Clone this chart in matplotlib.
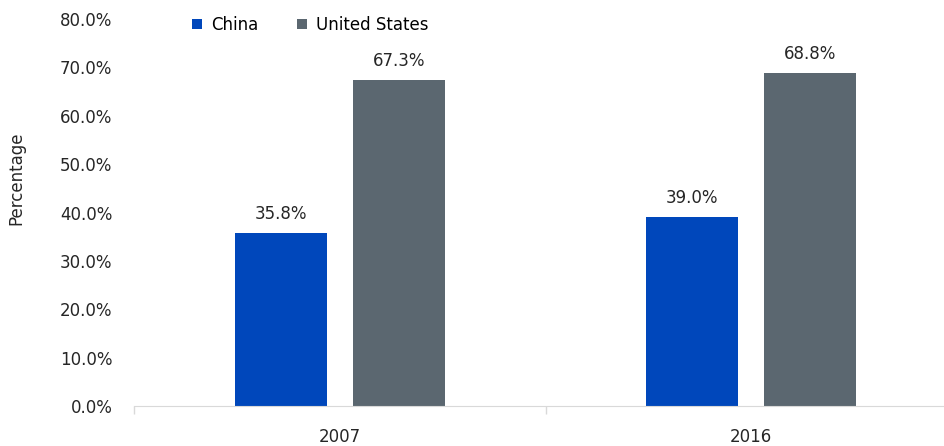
import matplotlib
matplotlib.use("Agg")
import matplotlib.pyplot as plt
import numpy as np

years = ["2007", "2016"]
china = [35.8, 39.0]
us = [67.3, 68.8]
series_names = ["China", "United States"]
colors = ["#0047BB", "#5B6770"]

plt.rcParams['font.family'] = ['DejaVu Sans']
FS = 12
TC = "#262626"

fig = plt.figure(figsize=(9.44, 4.46), dpi=100)
ax = fig.add_axes([134.5/944, (446-406)/446, 1 - 134.5/944, (406-19)/446])

x = np.arange(len(years))
w = 0.2226
off = 0.143
b1 = ax.bar(x - off, china, w, color=colors[0], label=series_names[0])
b2 = ax.bar(x + off, us, w, color=colors[1], label=series_names[1])

for bars, vals in ((b1, china), (b2, us)):
    for r, v in zip(bars, vals):
        ax.annotate(f"{v:.1f}%", (r.get_x() + r.get_width()/2, v), xytext=(0, 13.7),
                    textcoords="offset points", ha="center", va="center", fontsize=FS, color=TC)

ax.set_yticks(np.arange(0, 81, 10))
ax.set_yticklabels([f"{v:.1f}%" for v in np.arange(0, 81, 10)], fontsize=FS, color=TC)
ax.tick_params(axis='y', length=0, pad=16)
ax.set_xticks(x)
ax.set_xticklabels(years, fontsize=FS, color=TC)
ax.set_xticks([-0.5, 0.5, 1.5], minor=True)
ax.tick_params(axis='x', which='major', length=0, pad=16)
ax.tick_params(axis='x', which='minor', length=5.8, color="#D9D9D9", width=1)
ax.set_xlim(-0.5, -0.5 + 809.5/411)
ax.set_ylim(0, 80)

for s in ("top", "right", "left"):
    ax.spines[s].set_visible(False)
ax.spines["bottom"].set_color("#D9D9D9")

ax.set_ylabel("Percentage", fontsize=FS, color=TC)
ax.yaxis.set_label_coords((25 - 134.5)/809.5, (406 - 178)/387)

leg = ax.legend(loc="center left", bbox_to_anchor=((192 - 134.5)/809.5, (406 - 25)/387), ncol=2,
                frameon=False, fontsize=FS, handlelength=0.6, handleheight=0.6,
                columnspacing=2.3, handletextpad=0.55, borderpad=0, borderaxespad=0)

fig.savefig("out.png", dpi=100)
